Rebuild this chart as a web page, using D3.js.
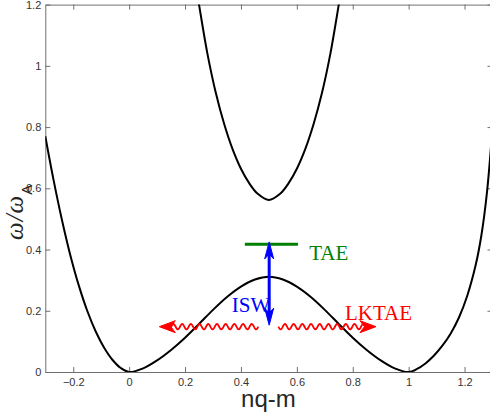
<!DOCTYPE html>
<html>
<head>
<meta charset="utf-8">
<script src="https://cdn.jsdelivr.net/npm/d3@7"></script>
<style>
  body { margin: 0; background: #fff; }
  svg { display: block; }
</style>
</head>
<body>
<svg width="490" height="417"></svg>
<script>
var svg = d3.select("svg"),
    width = +svg.attr("width"),
    height = +svg.attr("height");

// axis ticks
var xTicks = [-0.2, 0, 0.2, 0.4, 0.6, 0.8, 1, 1.2];
var yTicks = [0, 0.2, 0.4, 0.6, 0.8, 1, 1.2];

// lower continuum
var lowerX = [-0.30, -0.27, -0.24, -0.21, -0.18, -0.15, -0.12, -0.09, -0.06, -0.03, 0,
              0.05, 0.10, 0.15, 0.20, 0.25, 0.30, 0.35, 0.40, 0.45, 0.50,
              0.55, 0.60, 0.65, 0.70, 0.75, 0.80, 0.85, 0.90, 0.95, 1.00,
              1.03, 1.06, 1.09, 1.12, 1.15, 1.18, 1.21, 1.24, 1.26, 1.28, 1.30];
var lowerW = [0.77, 0.625, 0.495, 0.38, 0.282, 0.20, 0.133, 0.08, 0.04, 0.013, 0,
              0.012, 0.038, 0.072, 0.112, 0.157, 0.203, 0.245, 0.279, 0.302, 0.311,
              0.302, 0.279, 0.245, 0.203, 0.157, 0.112, 0.072, 0.038, 0.012, 0,
              0.01, 0.028, 0.053, 0.085, 0.125, 0.178, 0.25, 0.35, 0.445, 0.585, 0.80];

// upper continuum
var upperX = [0.24, 0.25, 0.28, 0.31, 0.34, 0.37, 0.40, 0.43, 0.46, 0.50,
              0.54, 0.57, 0.60, 0.63, 0.66, 0.69, 0.72, 0.75, 0.76];
var upperW = [1.255, 1.20, 1.04, 0.912, 0.81, 0.728, 0.664, 0.616, 0.582, 0.562,
              0.582, 0.616, 0.664, 0.728, 0.81, 0.912, 1.04, 1.20, 1.255];

// annotations
var taeLine = [0.414, 0.604], taeW = 0.417;
var iswX = 0.501, iswW = [0.153, 0.425];
var waveW = 0.148;
var leftWave = [0.462, 0.108], rightWave = [0.534, 0.883];
var labels = [
  {text: "TAE",   x: 0.644, w: 0.365, color: "#008000"},
  {text: "ISW",   x: 0.367, w: 0.197, color: "#0000ff"},
  {text: "LKTAE", x: 0.772, w: 0.169, color: "#ff0000"}
];

var x = d3.scaleLinear().domain([-0.3, 1.3]).range([45.3, 492.5]);
var y = d3.scaleLinear().domain([0, 1.2]).range([372, 4.6]);

var axisColor = "#6f6f6f", textColor = "#333";

svg.append("clipPath").attr("id", "plot")
  .append("rect")
    .attr("x", x(-0.3)).attr("y", y(1.2))
    .attr("width", x(1.3) - x(-0.3)).attr("height", y(0) - y(1.2));

function styleAxis(g) {
  g.select(".domain").attr("stroke", axisColor).attr("stroke-width", 1);
  g.selectAll(".tick line").attr("stroke", axisColor);
  g.selectAll(".tick text").attr("fill", textColor)
    .style("font-family", "'Liberation Sans', Arial, sans-serif").style("font-size", "11px");
}

svg.append("g").attr("transform", "translate(0," + y(0) + ")")
  .call(d3.axisBottom(x).tickValues(xTicks).tickSizeInner(-5).tickSizeOuter(0).tickPadding(6)
        .tickFormat(d3.format("")))
  .call(styleAxis);
svg.append("g").attr("transform", "translate(0," + y(1.2) + ")")
  .call(d3.axisTop(x).tickValues(xTicks).tickSizeInner(-5).tickSizeOuter(0).tickFormat(""))
  .call(styleAxis);
svg.append("g").attr("transform", "translate(" + x(-0.3) + ",0)")
  .call(d3.axisLeft(y).tickValues(yTicks).tickSizeInner(-5).tickSizeOuter(0).tickPadding(4)
        .tickFormat(d3.format("")))
  .call(styleAxis);
svg.append("g").attr("transform", "translate(" + x(1.3) + ",0)")
  .call(d3.axisRight(y).tickValues(yTicks).tickSizeInner(-5).tickSizeOuter(0).tickFormat(""))
  .call(styleAxis);

var line = d3.line()
  .x(function(d) { return x(d[0]); })
  .y(function(d) { return y(d[1]); })
  .curve(d3.curveCatmullRom.alpha(0.5));

var curves = svg.append("g").attr("clip-path", "url(#plot)");
curves.append("path")
  .datum(d3.zip(lowerX, lowerW))
  .attr("d", line)
  .attr("fill", "none").attr("stroke", "#000").attr("stroke-width", 2);
curves.append("path")
  .datum(d3.zip(upperX, upperW))
  .attr("d", line)
  .attr("fill", "none").attr("stroke", "#000").attr("stroke-width", 2);

// TAE level
svg.append("line")
  .attr("x1", x(taeLine[0])).attr("x2", x(taeLine[1]))
  .attr("y1", y(taeW)).attr("y2", y(taeW))
  .attr("stroke", "#008000").attr("stroke-width", 3);

function arrowHead(px, py, angle, len, halfW, color) {
  svg.append("path")
    .attr("d", "M0,0 L" + (-len) + "," + (-halfW) + " L" + (-len * 0.72) + ",0 L" + (-len) + "," + halfW + " Z")
    .attr("transform", "translate(" + px + "," + py + ") rotate(" + angle + ")")
    .attr("fill", color).attr("stroke", color).attr("stroke-width", 1).attr("stroke-linejoin", "round");
}

// ISW double arrow
svg.append("line")
  .attr("x1", x(iswX)).attr("x2", x(iswX))
  .attr("y1", y(iswW[0]) - 8).attr("y2", y(iswW[1]) + 8)
  .attr("stroke", "#0000ff").attr("stroke-width", 3);
arrowHead(x(iswX), y(iswW[1]), -90, 17, 4.5, "#0000ff");
arrowHead(x(iswX), y(iswW[0]), 90, 17, 4.5, "#0000ff");

// wavy LKTAE arrows
function wave(ends) {
  var x0 = x(ends[0]), x1 = x(ends[1]), y0 = y(waveW);
  var dir = x1 > x0 ? 1 : -1;
  var bodyEnd = x1 - dir * 10;
  var pts = d3.range(0, Math.abs(bodyEnd - x0), 0.5).map(function(t) {
    return [x0 + dir * t, y0 + 2.7 * Math.sin(2 * Math.PI * t / 8.7)];
  });
  svg.append("path")
    .attr("d", d3.line()(pts))
    .attr("fill", "none").attr("stroke", "#ff0000").attr("stroke-width", 1.8);
  arrowHead(x1, y0, dir > 0 ? 0 : 180, 16, 6, "#ff0000");
}
wave(leftWave);
wave(rightWave);

svg.selectAll("text.note")
  .data(labels)
  .enter().append("text")
    .attr("class", "note")
    .attr("x", function(d) { return x(d.x); })
    .attr("y", function(d) { return y(d.w); })
    .attr("fill", function(d) { return d.color; })
    .style("font-family", "'Liberation Serif', 'Times New Roman', serif")
    .style("font-size", "21px")
    .text(function(d) { return d.text; });

// axis labels
svg.append("text")
  .attr("x", (x(-0.3) + x(1.3)) / 2 - 0.5).attr("y", 407)
  .attr("text-anchor", "middle")
  .attr("fill", "#262626")
  .style("font-family", "'Liberation Sans', Arial, sans-serif")
  .style("font-size", "24px")
  .text("nq-m");

var yl = svg.append("text")
  .attr("transform", "translate(23,240) rotate(-90)")
  .attr("fill", "#262626");
yl.append("tspan")
  .style("font-family", "'Liberation Serif', serif")
  .style("font-style", "italic")
  .style("font-size", "25px")
  .attr("letter-spacing", "1")
  .text("ω/ω");
yl.append("tspan")
  .attr("dy", 9)
  .style("font-family", "'Liberation Sans', Arial, sans-serif")
  .style("font-size", "15px")
  .text("A");
</script>
</body>
</html>
